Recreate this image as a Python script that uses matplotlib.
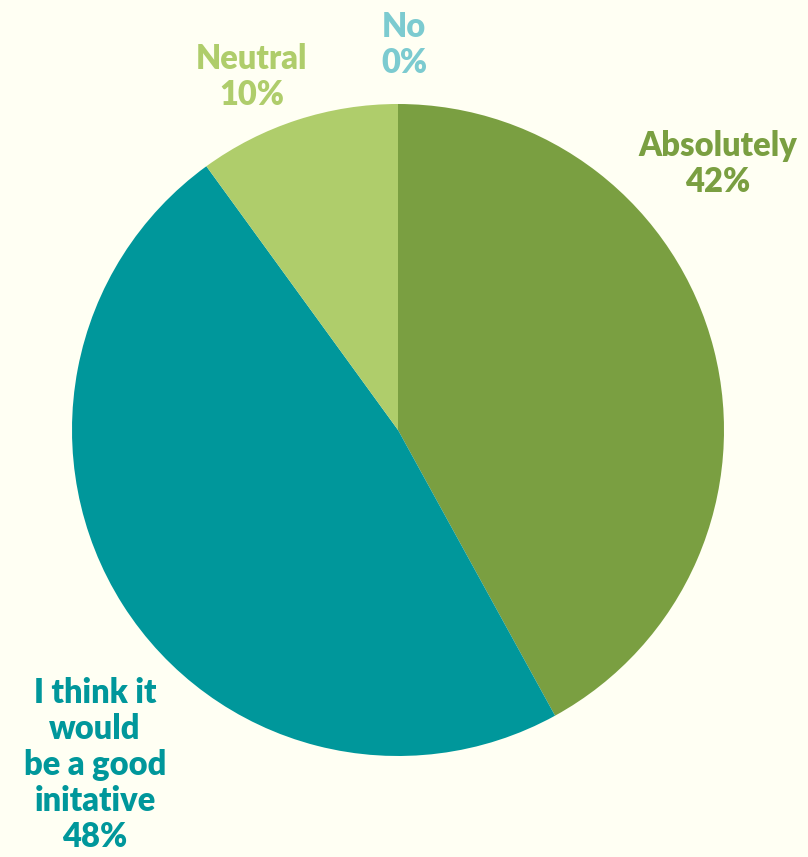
import matplotlib
matplotlib.use("Agg")
import matplotlib.pyplot as plt

categories = ["Absolutely", "I think it\nwould\nbe a good\ninitative", "Neutral", "No"]
values = [42, 48, 10, 0]
colors = ["#7a9f41", "#00979b", "#afcd6b", "#7ccbd0"]
label_pos = [(718, 164), (95, 765), (252, 77), (404, 45)]

BG = "#fffff3"
W, H = 808, 857
fig = plt.figure(figsize=(W / 100, H / 100), dpi=100, facecolor=BG)
ax = fig.add_axes([0, 0, 1, 1])
ax.set_facecolor(BG)

# y axis is inverted below, so startangle -90 is the top and
# counterclock=True runs clockwise on screen
ax.pie(values, colors=colors, startangle=-90, counterclock=True,
       center=(398, 430), radius=326, frame=True,
       wedgeprops=dict(linewidth=0, antialiased=True))
ax.set_xlim(0, W)
ax.set_ylim(H, 0)
ax.set_aspect("equal")
ax.axis("off")

for cat, v, c, (x, y) in zip(categories, values, colors, label_pos):
    ax.text(x, y, f"{cat}\n{v}%", color=c, ha="center", va="center",
            fontsize=23.5, fontweight="heavy", family=["Lato", "DejaVu Sans"],
            linespacing=1.15)

fig.savefig("out.png", dpi=100, facecolor=BG)
